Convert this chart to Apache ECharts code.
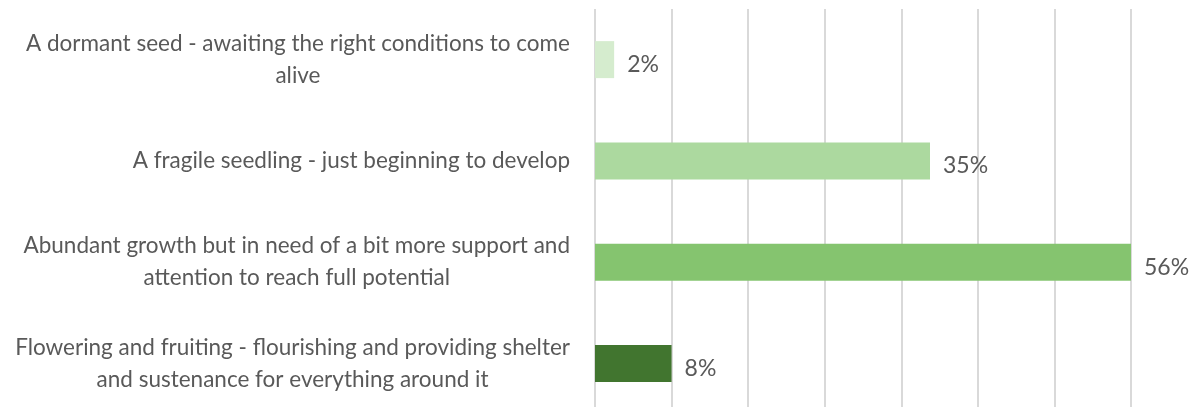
<!DOCTYPE html>
<html>
<head>
<meta charset="utf-8">
<style>
  html, body { margin: 0; padding: 0; background: #ffffff; }
  #chart { width: 1202px; height: 407px; }
</style>
<script src="https://cdn.jsdelivr.net/npm/echarts@6/dist/echarts.min.js"></script>
</head>
<body>
<div id="chart"></div>
<script>
// Survey answers, top to bottom; "\n" marks where each label wraps
const categories = [
  'A dormant seed - awaiting the right conditions to come\nalive',
  'A fragile seedling - just beginning to develop',
  'Abundant growth but in need of a bit more support and\nattention to reach full potential',
  'Flowering and fruiting - flourishing and providing shelter\nand sustenance for everything around it'
];
const shares = [2, 35, 56, 8];
const barColors = ['#d5ecce', '#acd99f', '#85c46f', '#41752f'];

const chart = echarts.init(document.getElementById('chart'), null, { renderer: 'canvas' });

const FONT = 'Lato, "Open Sans", sans-serif';
const TEXT = '#595959';

chart.setOption({
  animation: false,
  backgroundColor: '#ffffff',
  // plot area runs a little past the bottom edge of the canvas
  grid: { left: 595, right: 71, top: 9, height: 405, containLabel: false, outerBoundsMode: 'none' },
  xAxis: {
    type: 'value',
    min: 0,
    max: 56,
    interval: 8,
    axisLine: { show: false },
    axisTick: { show: false },
    axisLabel: { show: false },
    splitLine: { show: true, lineStyle: { color: '#d9d9d9', width: 2 } }
  },
  yAxis: {
    type: 'category',
    inverse: true,
    data: categories,
    axisLine: { show: false },
    axisTick: { show: false },
    axisLabel: {
      margin: 25,
      align: 'right',
      formatter: function (v) {
        return v.split('\n').map(function (s) { return '{c|' + s + '}'; }).join('\n');
      },
      rich: {
        c: {
          fontFamily: FONT,
          fontSize: 22.5,
          color: TEXT,
          lineHeight: 32,
          align: 'center'
        }
      }
    }
  },
  series: [{
    type: 'bar',
    data: shares.map(function (v, i) {
      return { value: v, itemStyle: { color: barColors[i] } };
    }),
    barWidth: 37,
    label: {
      show: true,
      position: 'right',
      distance: 13,
      offset: [0, 5],
      formatter: '{c}%',
      fontFamily: FONT,
      fontSize: 23,
      color: TEXT
    }
  }]
});
</script>
</body>
</html>
